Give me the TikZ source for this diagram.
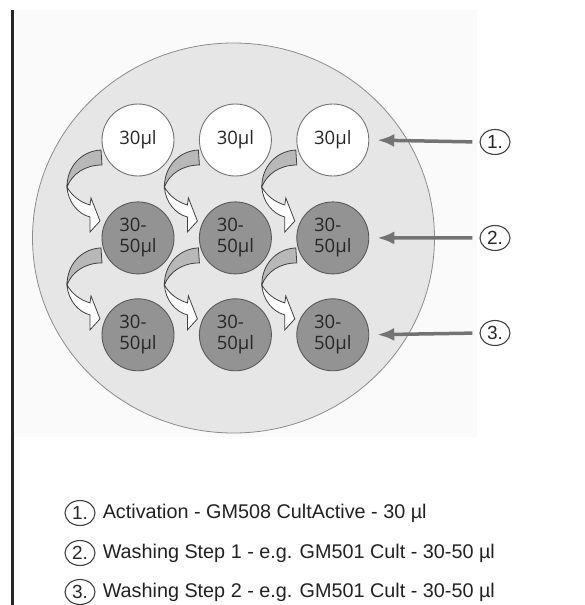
\documentclass[tikz,border=0pt]{standalone}
\usepackage{fontspec}
\usepackage{tikz}
\usetikzlibrary{shapes,shapes.geometric,positioning,arrows.meta}
\newfontfamily\wellfont{Open Sans}
\newfontfamily\keyfont{Liberation Sans}
\definecolor{platefill}{HTML}{E6E6E6}
\definecolor{washfill}{HTML}{939393}
\definecolor{panel}{HTML}{FAFAFA}

\begin{document}
\begin{tikzpicture}[x=1pt, y=-1pt,
    swirl/.pic={
      \filldraw[back] (-37,10) .. controls (-57,11) and (-71,27) .. (-71,47)
        .. controls (-66,34) and (-53,25) .. (-36,25) -- cycle;
      \filldraw[front] (-71,47) .. controls (-70,62) and (-60,74) .. (-48,77)
        -- (-48,92) -- (-38,81) -- (-47,58) -- (-48,65)
        .. controls (-58,62) and (-66,56) .. (-71,47) -- cycle;
    }]
  \tikzstyle{plate} = [ellipse, draw=black!45, fill=platefill, line width=0.8pt,
      minimum width=402pt, minimum height=390pt]
  \tikzstyle{well} = [circle, draw=black!55, fill=white, line width=0.9pt,
      minimum size=72pt, inner sep=0pt, text=black!85,
      font=\wellfont\fontsize{18.5}{21}\selectfont, align=left]
  \tikzstyle{wash} = [well, fill=washfill, draw=black!65]
  \tikzstyle{back} = [fill=black!28, draw=black!75, line width=0.8pt]
  \tikzstyle{front} = [fill=white, draw=black!75, line width=0.8pt]
  \tikzstyle{num} = [ellipse, draw=black!75, line width=1.1pt, inner sep=0pt,
      minimum width=30pt, minimum height=25pt, text=black!85,
      font=\keyfont\fontsize{19}{22}\selectfont]
  \tikzstyle{key} = [inner sep=0pt, text=black!87,
      font=\keyfont\fontsize{19.8}{24}\selectfont]
  \tikzstyle{pointer} = [draw=black!55, line width=3.5pt,
      -{Latex[length=17pt,width=13pt]}]

  \useasboundingbox (0,0) rectangle (585,605);
  \fill[panel] (15,10) rectangle (477,437);
  \draw[line width=3pt, black!85] (12,10) -- (12,605);

  \node (plate) [plate] at (233.5,238) {};

  % wells
  \node (w11) [well] at (138,140) {30µl};
  \node (w12) [well, right=24.5pt of w11] {30µl};
  \node (w13) [well, right=24.5pt of w12] {30µl};
  \node (w21) [wash, below=25pt of w11] {30-\\50µl};
  \node (w22) [wash, below=25pt of w12] {30-\\50µl};
  \node (w23) [wash, below=25pt of w13] {30-\\50µl};
  \node (w31) [wash, below=24pt of w21] {30-\\50µl};
  \node (w32) [wash, below=24pt of w22] {30-\\50µl};
  \node (w33) [wash, below=24pt of w23] {30-\\50µl};

  \pic at (w11) {swirl};
  \pic at (w12) {swirl};
  \pic at (w13) {swirl};
  \pic at (w21) {swirl};
  \pic at (w22) {swirl};
  \pic at (w23) {swirl};

  % steps
  \node (n1) [num] at (495,142) {1.};
  \node (n2) [num] at (495,238) {2.};
  \node (n3) [num] at (495,333) {3.};
  \draw[pointer, shorten <=7pt, shorten >=8pt] (n1.west) -- (w13.east);
  \draw[pointer, shorten <=7pt, shorten >=8pt] (n2.west) -- (w23.east);
  \draw[pointer, shorten <=7pt, shorten >=8pt] (n3.west) -- (w33.east);

  % legend
  \node (c1) [num] at (80,513) {1.};
  \node (c2) [num] at (80,553) {2.};
  \node (c3) [num] at (80,592) {3.};
  \node (l1) [key, right=7pt of c1] {Activation - GM508 CultActive - 30 µl};
  \node (l2) [key, right=7pt of c2] {Washing Step 1 - e.g. GM501 Cult - 30-50 µl};
  \node (l3) [key, right=7pt of c3] {Washing Step 2 - e.g. GM501 Cult - 30-50 µl};
\end{tikzpicture}
\end{document}
